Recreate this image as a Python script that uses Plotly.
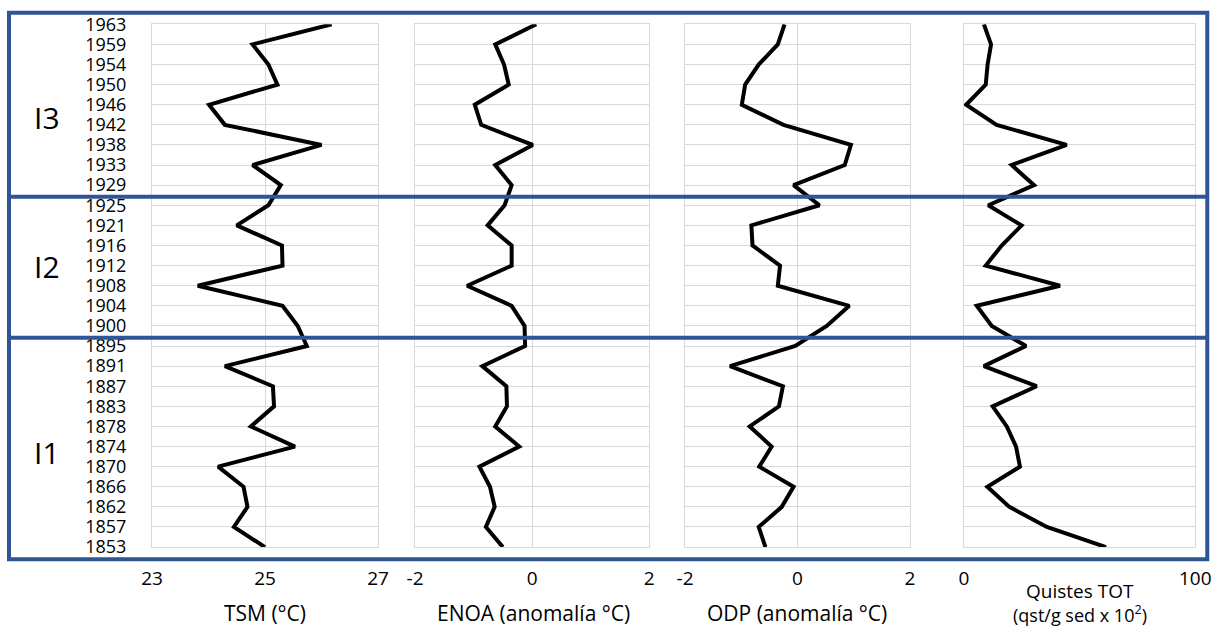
import plotly.graph_objects as go

years = ["1963", "1959", "1954", "1950", "1946", "1942", "1938", "1933", "1929",
         "1925", "1921", "1916", "1912", "1908", "1904", "1900",
         "1895", "1891", "1887", "1883", "1878", "1874", "1870", "1866", "1862", "1857", "1853"]

tsm = [26.18, 24.78, 25.06, 25.22, 24.01, 24.29, 26.00, 24.78, 25.28,
       25.06, 24.50, 25.30, 25.31, 23.81, 25.31, 25.58,
       25.74, 24.29, 25.14, 25.16, 24.75, 25.53, 24.17, 24.62, 24.69, 24.45, 25.00]

enoa = [0.07, -0.63, -0.48, -0.40, -0.98, -0.87, 0.01, -0.63, -0.35,
        -0.47, -0.76, -0.35, -0.35, -1.11, -0.35, -0.13,
        -0.12, -0.85, -0.44, -0.43, -0.63, -0.22, -0.90, -0.72, -0.64, -0.79, -0.50]

odp = [-0.23, -0.35, -0.69, -0.93, -0.99, -0.25, 0.95, 0.84, -0.07,
       0.39, -0.82, -0.80, -0.31, -0.35, 0.92, 0.52,
       -0.04, -1.20, -0.26, -0.33, -0.85, -0.46, -0.68, -0.07, -0.28, -0.69, -0.57]

quistes = [8.6, 11.7, 10.2, 9.4, 0.9, 14.1, 44.4, 20.6, 30.3,
           10.5, 24.9, 16.3, 9.4, 41.5, 5.5, 12.0,
           26.8, 8.6, 31.4, 12.4, 18.5, 22.5, 24.2, 10.1, 19.6, 35.8, 61.4]

tsm_ticks = [23, 25, 27]
anom_ticks = [-2, 0, 2]
quistes_ticks = [0, 100]

group_labels = ["I3", "I2", "I1"]
axis_titles = ["TSM (°C)", "ENOA (anomalía °C)", "ODP (anomalía °C)",
               "Quistes TOT", "(qst/g sed x 10<sup>2</sup>)"]

W, H = 1215, 629
FONT = "Open Sans, Liberation Sans, sans-serif"
GRID = "#D9D9D9"
BLUE = "#2F5597"


def px(x):
    return x / W


def py(y):
    return 1 - y / H


fig = go.Figure()
series = [(tsm, "x"), (enoa, "x2"), (odp, "x3"), (quistes, "x4")]
for vals, xa in series:
    fig.add_trace(go.Scatter(x=vals, y=years, xaxis=xa, yaxis="y", mode="lines",
                             line=dict(color="black", width=4), showlegend=False,
                             hoverinfo="skip"))

xcommon = dict(anchor="y", showgrid=True, gridcolor=GRID, gridwidth=1,
               showline=True, linecolor=GRID, mirror=True, zeroline=False,
               ticks="", tickfont=dict(size=19, color="black", family=FONT),
               ticklabelstandoff=14, fixedrange=True, tickmode="array")


def tick_args(vals):
    return dict(tickvals=vals, ticktext=[str(v) for v in vals])


fig.update_layout(
    width=W, height=H,
    margin=dict(l=0, r=0, t=0, b=0, autoexpand=False),
    paper_bgcolor="white", plot_bgcolor="white",
    font=dict(family=FONT, color="black"),
    xaxis=dict(domain=[px(152), px(378)], range=[23, 27], **tick_args(tsm_ticks), **xcommon),
    xaxis2=dict(domain=[px(415), px(649.3)], range=[-2, 2], **tick_args(anom_ticks), **xcommon),
    xaxis3=dict(domain=[px(685), px(910)], range=[-2, 2], **tick_args(anom_ticks), **xcommon),
    xaxis4=dict(domain=[px(964), px(1195.3)], range=[0, 100], **tick_args(quistes_ticks), **xcommon),
    yaxis=dict(domain=[py(547.1), py(24.3)], type="category", categoryorder="array",
               categoryarray=years[::-1], range=[0, len(years) - 1], anchor="x",
               tickmode="array", tickvals=years, ticktext=years,
               showgrid=True, gridcolor=GRID, gridwidth=1, showline=True,
               linecolor=GRID, mirror="all", zeroline=False, ticks="",
               tickfont=dict(size=18, color="black", family=FONT),
               ticklabelstandoff=21, fixedrange=True),
)

# blue frame boxes
box_top, box_bot, box_l, box_r = 12.7, 559.3, 9, 1207.3
fig.add_shape(type="rect", xref="paper", yref="paper",
              x0=px(box_l), x1=px(box_r), y0=py(box_bot), y1=py(box_top),
              line=dict(color=BLUE, width=4), layer="above")
for yy in [196.7, 337.7]:
    fig.add_shape(type="line", xref="paper", yref="paper",
                  x0=px(box_l), x1=px(box_r), y0=py(yy), y1=py(yy),
                  line=dict(color=BLUE, width=4), layer="above")

# group labels
for lab, yy in zip(group_labels, [117, 266, 452]):
    fig.add_annotation(text=lab, xref="paper", yref="paper", x=px(47), y=py(yy),
                       xanchor="center", yanchor="middle", showarrow=False,
                       font=dict(size=30, color="black", family=FONT))

# axis titles
title_pos = [(265, 613, 21), (533, 613, 21), (797, 613, 21), (1080, 591, 19), (1080, 614, 18)]
for t, (xx, yy, fs) in zip(axis_titles, title_pos):
    fig.add_annotation(text=t, xref="paper", yref="paper", x=px(xx), y=py(yy),
                       xanchor="center", yanchor="middle", showarrow=False,
                       font=dict(size=fs, color="black", family=FONT))

fig.write_html("out.html", config={"displayModeBar": False},
               post_script="document.body.style.margin='0';"
                           "document.body.style.padding='0';"
                           "document.documentElement.style.overflow='hidden';")
